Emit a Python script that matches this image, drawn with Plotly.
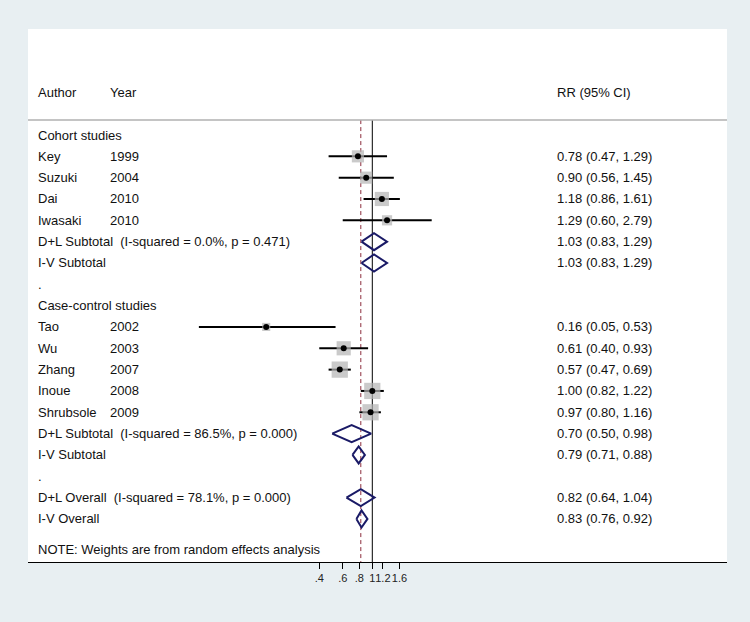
import plotly.graph_objects as go

# study rows
authors = ["Key", "Suzuki", "Dai", "Iwasaki", "Tao", "Wu", "Zhang", "Inoue", "Shrubsole"]
years = ["1999", "2004", "2010", "2010", "2002", "2003", "2007", "2008", "2009"]
rr = [0.78, 0.90, 1.18, 1.29, 0.16, 0.61, 0.57, 1.00, 0.97]
lo = [0.47, 0.56, 0.86, 0.60, 0.05, 0.40, 0.47, 0.82, 0.80]
hi = [1.29, 1.45, 1.61, 2.79, 0.53, 0.93, 0.69, 1.22, 1.16]
box_weight = [7.0, 7.0, 9.5, 4.9, 3.1, 9.5, 12.5, 12.5, 12.5]
study_rows = [1, 2, 3, 4, 9, 10, 11, 12, 13]

# pooled rows
pool_labels = [
    "D+L Subtotal  (I-squared = 0.0%, p = 0.471)",
    "I-V Subtotal",
    "D+L Subtotal  (I-squared = 86.5%, p = 0.000)",
    "I-V Subtotal",
    "D+L Overall  (I-squared = 78.1%, p = 0.000)",
    "I-V Overall",
]
pool_rr = [1.03, 1.03, 0.70, 0.79, 0.82, 0.83]
pool_lo = [0.83, 0.83, 0.50, 0.71, 0.64, 0.76]
pool_hi = [1.29, 1.29, 0.98, 0.88, 1.04, 0.92]
pool_rows = [5, 6, 14, 15, 17, 18]

group_labels = ["Cohort studies", ".", "Case-control studies", "."]
group_rows = [0, 7, 8, 16]

tick_vals = [0.4, 0.6, 0.8, 1, 1.2, 1.6]
tick_text = [".4", ".6", ".8", "1", "1.2", "1.6"]

overall_dl = pool_rr[4]

FONT = "Liberation Sans, Arial, sans-serif"
W, H = 750, 622
L, R, T, B = 28, 23, 29, 60
pw = W - L - R
y_top, y_bot = -4.97, 20.02
header_y = -0.70

fig = go.Figure()

# reference lines
fig.add_trace(go.Scatter(x=[1, 1], y=[header_y, y_bot], mode="lines",
                         line=dict(color="black", width=1), hoverinfo="skip"))
fig.add_trace(go.Scatter(x=[overall_dl, overall_dl], y=[header_y, y_bot], mode="lines",
                         line=dict(color="#8c2d3c", width=1, dash="4px,3px"), hoverinfo="skip"))

# CI lines
cx, cy = [], []
for r, a, b in zip(study_rows, lo, hi):
    cx += [a, b, None]
    cy += [r, r, None]
fig.add_trace(go.Scatter(x=cx, y=cy, mode="lines",
                         line=dict(color="black", width=2), hoverinfo="skip"))

# weight boxes + point estimates
fig.add_trace(go.Scatter(x=rr, y=study_rows, mode="markers",
                         marker=dict(symbol="square", color="#b4b4b4",
                                     size=[4.6 * w ** 0.5 for w in box_weight],
                                     line=dict(width=0)),
                         hoverinfo="skip"))
fig.add_trace(go.Scatter(x=rr, y=study_rows, mode="markers",
                         marker=dict(color="black", size=6), hoverinfo="skip"))

# diamonds
dx, dy = [], []
hh = 0.4
for r, e, a, b in zip(pool_rows, pool_rr, pool_lo, pool_hi):
    dx += [a, e, b, e, a, None]
    dy += [r, r - hh, r, r + hh, r, None]
fig.add_trace(go.Scatter(x=dx, y=dy, mode="lines",
                         line=dict(color="#1a1a66", width=2), hoverinfo="skip"))

# text columns
def px(xpix):
    return (xpix - L) / pw

ann = []
def txt(x, y, s, yref="y"):
    ann.append(dict(x=px(x), y=y, xref="paper", yref=yref, text=s, showarrow=False,
                    xanchor="left", yanchor="middle",
                    font=dict(family=FONT, size=13, color="#111")))

txt(36, -2, "Author")
txt(108, -2, "Year")
txt(555, -2, "RR (95% CI)")
for s, r in zip(group_labels, group_rows):
    txt(36, r, s)
for a, yr, r, e, l_, h_ in zip(authors, years, study_rows, rr, lo, hi):
    txt(36, r, a)
    txt(108, r, yr)
    txt(555, r, f"{e:.2f} ({l_:.2f}, {h_:.2f})")
for s, r, e, l_, h_ in zip(pool_labels, pool_rows, pool_rr, pool_lo, pool_hi):
    txt(36, r, s.replace("  ", "\u00a0 "))
    txt(555, r, f"{e:.2f} ({l_:.2f}, {h_:.2f})")
txt(36, 19.45, "NOTE: Weights are from random effects analysis")

fig.update_layout(
    width=W, height=H,
    margin=dict(l=L, r=R, t=T, b=B),
    paper_bgcolor="#e8eff2",
    plot_bgcolor="white",
    showlegend=False,
    annotations=ann,
    shapes=[dict(type="line", xref="paper", yref="y", x0=0, x1=1,
                 y0=header_y, y1=header_y, line=dict(color="#b0b0b0", width=1.5))],
    xaxis=dict(type="log", range=[-2.583, 2.661], showgrid=False, zeroline=False,
               showline=True, linecolor="black", linewidth=1,
               ticks="outside", ticklen=6, tickcolor="black", tickangle=0,
               tickvals=tick_vals, ticktext=tick_text,
               tickfont=dict(family=FONT, size=11, color="#222")),
    yaxis=dict(range=[y_bot, y_top], showgrid=False, zeroline=False,
               showticklabels=False, showline=False),
)

fig.write_html("out.html", config={"displayModeBar": False},
               post_script="document.body.style.margin='0';")
